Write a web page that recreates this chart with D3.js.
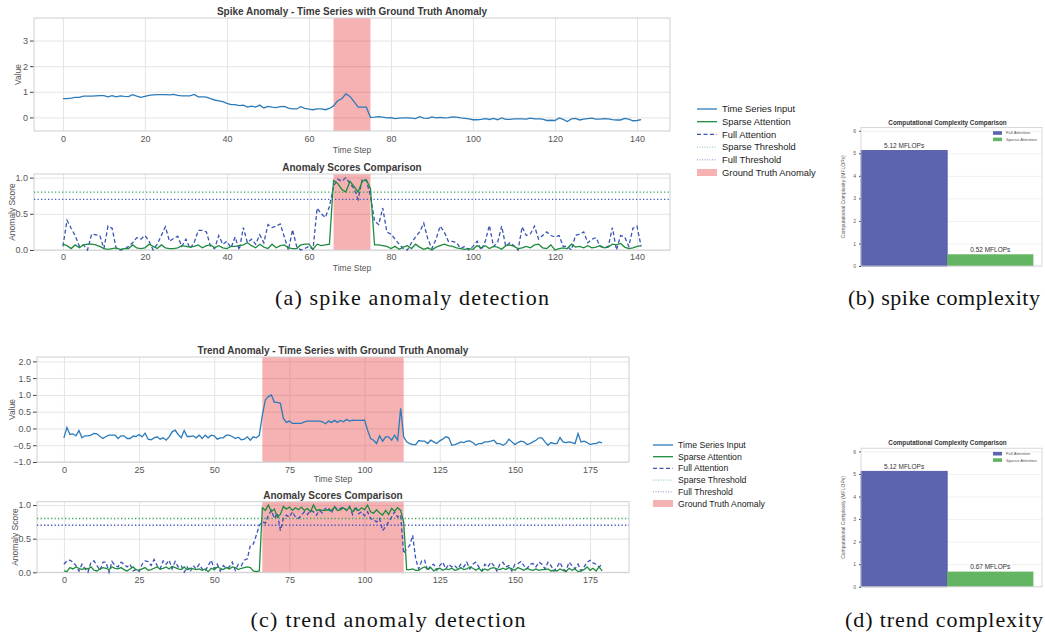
<!DOCTYPE html>
<html>
<head>
<meta charset="utf-8">
<script src="https://d3js.org/d3.v7.min.js"></script>
<style>
  body { margin: 0; background: #fff; }
  svg { display: block; }
  text { font-family: "Liberation Sans", Arial, sans-serif; }
  .cap { font-family: "Liberation Serif", "DejaVu Serif", serif; }
</style>
</head>
<body>
<svg id="fig" width="1045" height="635"></svg>
<script>
// ---- data ----
const spikeSeries = [
  0.73,0.73,0.75,0.78,0.78,0.83,0.83,0.83,0.84,0.85,
  0.85,0.80,0.85,0.80,0.84,0.82,0.81,0.89,0.83,0.78,
  0.82,0.86,0.88,0.89,0.89,0.89,0.88,0.90,0.86,0.84,
  0.84,0.84,0.90,0.80,0.80,0.79,0.73,0.68,0.65,0.62,
  0.55,0.50,0.50,0.46,0.48,0.40,0.44,0.40,0.48,0.37,
  0.43,0.40,0.38,0.42,0.43,0.36,0.33,0.33,0.42,0.35,
  0.32,0.30,0.33,0.33,0.30,0.35,0.45,0.65,0.73,0.92,
  0.82,0.62,0.40,0.40,0.40,0.00,0.01,0.03,0.01,-0.02,
  -0.01,-0.05,-0.03,-0.02,-0.02,-0.03,-0.05,0.03,-0.03,-0.04,
  0.02,-0.02,0.00,-0.02,-0.01,0.02,0.01,-0.02,-0.04,-0.06,
  -0.09,-0.09,-0.08,-0.05,-0.08,-0.04,-0.09,-0.02,-0.08,-0.08,
  -0.06,-0.06,-0.06,-0.07,-0.03,-0.06,-0.06,-0.07,-0.12,-0.11,
  -0.12,-0.02,-0.08,-0.16,-0.06,-0.04,-0.10,-0.07,-0.05,-0.03,
  -0.07,-0.07,-0.05,-0.06,-0.09,-0.10,-0.10,-0.04,-0.07,-0.13,
  -0.12,-0.09
];
const spikeSparse = [
  0.08,0.06,0.02,0.07,0.03,0.07,0.08,0.08,0.07,0.05,
  0.02,0.01,0.02,0.03,0.01,0.02,0.02,0.07,0.03,0.02,
  0.03,0.08,0.05,0.02,0.07,0.03,0.02,0.02,0.03,0.06,
  0.05,0.04,0.05,0.07,0.03,0.06,0.07,0.03,0.06,0.03,
  0.02,0.05,0.05,0.06,0.07,0.10,0.06,0.03,0.08,0.04,
  0.02,0.08,0.03,0.06,0.07,0.03,0.02,0.02,0.07,0.08,
  0.08,0.01,0.08,0.06,0.07,0.08,0.96,0.92,0.84,0.80,
  0.95,0.88,0.80,0.95,0.97,0.85,0.07,0.07,0.06,0.05,
  0.02,0.05,0.01,0.04,0.06,0.02,0.08,0.04,0.01,0.03,
  0.00,0.04,0.06,0.08,0.06,0.05,0.03,0.02,0.01,0.02,
  0.01,0.06,0.03,0.06,0.02,0.05,0.04,0.01,0.06,0.07,
  0.05,0.02,0.03,0.05,0.03,0.07,0.08,0.03,0.02,0.07,
  0.00,0.02,0.03,0.02,0.08,0.04,0.05,0.03,0.06,0.03,
  0.04,0.06,0.03,0.04,0.08,0.07,0.09,0.04,0.02,0.03,
  0.05,0.06
];
const spikeFull = [
  0.05,0.41,0.30,0.20,0.05,0.07,0.00,0.22,0.21,0.20,
  0.02,0.33,0.30,0.02,0.00,0.01,0.05,0.10,0.17,0.15,
  0.20,0.12,0.00,0.08,0.20,0.32,0.12,0.16,0.19,0.05,
  0.15,0.02,0.10,0.27,0.27,0.25,0.05,0.02,0.20,0.08,
  0.12,0.03,0.18,0.00,0.31,0.10,0.15,0.08,0.21,0.10,
  0.35,0.31,0.33,0.36,0.18,0.00,0.28,0.05,0.00,0.02,
  0.05,0.01,0.58,0.50,0.45,0.60,0.88,0.98,0.95,1.00,
  0.92,0.85,0.70,0.98,0.96,0.75,0.40,0.35,0.58,0.25,
  0.22,0.15,0.08,0.02,0.00,0.10,0.18,0.25,0.37,0.15,
  0.02,0.15,0.33,0.25,0.12,0.12,0.10,0.02,0.05,0.00,
  0.05,0.12,0.00,0.12,0.34,0.05,0.10,0.33,0.05,0.10,
  0.06,0.00,0.32,0.20,0.22,0.33,0.15,0.20,0.25,0.20,
  0.18,0.20,0.05,0.05,0.00,0.20,0.22,0.25,0.10,0.15,
  0.17,0.05,0.03,0.05,0.31,0.00,0.20,0.18,0.05,0.30,
  0.33,0.05
];
const trendSeries = [
  -0.28,0.03,-0.18,-0.16,-0.22,-0.06,-0.28,-0.22,-0.22,-0.20,
  -0.15,-0.16,-0.24,-0.30,-0.24,-0.20,-0.20,-0.20,-0.30,-0.22,
  -0.22,-0.30,-0.30,-0.23,-0.24,-0.18,-0.25,-0.14,-0.32,-0.34,
  -0.28,-0.25,-0.32,-0.28,-0.35,-0.25,-0.10,-0.05,-0.18,-0.28,
  -0.06,-0.24,-0.24,-0.22,-0.28,-0.20,-0.30,-0.20,-0.28,-0.20,
  -0.22,-0.32,-0.28,-0.28,-0.20,-0.20,-0.24,-0.30,-0.26,-0.34,
  -0.32,-0.25,-0.35,-0.25,-0.28,-0.20,0.40,0.85,0.95,1.00,
  0.78,0.78,0.75,0.30,0.18,0.22,0.15,0.15,0.15,0.15,
  0.20,0.22,0.22,0.22,0.22,0.22,0.20,0.14,0.22,0.18,
  0.24,0.18,0.24,0.20,0.27,0.22,0.25,0.24,0.24,0.24,
  0.25,-0.05,-0.30,-0.35,-0.45,-0.22,-0.38,-0.25,-0.25,-0.35,
  -0.20,-0.35,0.60,-0.25,-0.40,-0.45,-0.48,-0.48,-0.36,-0.38,
  -0.38,-0.45,-0.35,-0.40,-0.45,-0.37,-0.32,-0.25,-0.28,-0.50,
  -0.48,-0.45,-0.40,-0.42,-0.38,-0.37,-0.42,-0.50,-0.45,-0.45,
  -0.40,-0.40,-0.38,-0.35,-0.45,-0.45,-0.50,-0.45,-0.32,-0.40,
  -0.48,-0.42,-0.38,-0.40,-0.48,-0.45,-0.40,-0.35,-0.28,-0.28,
  -0.40,-0.50,-0.42,-0.45,-0.45,-0.27,-0.40,-0.42,-0.40,-0.42,
  -0.45,-0.15,-0.40,-0.38,-0.42,-0.48,-0.45,-0.45,-0.40,-0.43
];
const trendSparse = [
  0.02,0.01,0.07,0.05,0.08,0.06,0.04,0.06,0.05,0.08,
  0.03,0.02,0.05,0.07,0.06,0.04,0.08,0.06,0.05,0.07,
  0.04,0.02,0.05,0.08,0.04,0.03,0.05,0.07,0.03,0.04,
  0.06,0.08,0.05,0.06,0.08,0.05,0.09,0.07,0.05,0.04,
  0.08,0.04,0.06,0.05,0.04,0.05,0.03,0.05,0.01,0.06,
  0.04,0.08,0.06,0.04,0.07,0.05,0.08,0.07,0.04,0.06,
  0.07,0.08,0.07,0.02,0.01,0.02,0.96,0.92,1.00,0.90,
  0.94,0.82,0.86,0.98,0.94,0.97,0.92,0.96,0.93,0.97,
  0.92,0.95,0.90,1.00,0.92,0.93,0.92,0.92,0.93,0.92,
  0.97,0.92,0.93,0.96,0.92,0.97,0.90,0.95,0.92,0.96,
  0.93,1.00,0.90,0.88,0.93,0.88,0.85,0.92,0.86,0.95,
  0.91,0.96,0.92,0.75,0.04,0.04,0.05,0.03,0.03,0.06,
  0.08,0.05,0.07,0.02,0.05,0.06,0.03,0.05,0.04,0.06,
  0.03,0.04,0.07,0.04,0.05,0.08,0.06,0.03,0.06,0.02,
  0.05,0.03,0.06,0.07,0.05,0.04,0.06,0.04,0.07,0.05,
  0.03,0.07,0.05,0.03,0.06,0.04,0.03,0.05,0.03,0.04,
  0.04,0.05,0.02,0.03,0.02,0.05,0.03,0.01,0.06,0.03,
  0.05,0.01,0.02,0.04,0.08,0.03,0.06,0.02,0.08,0.02
];
const trendFull = [
  0.12,0.17,0.18,0.15,0.10,0.02,0.12,0.05,0.00,0.15,
  0.17,0.10,0.03,0.15,0.15,0.00,0.16,0.10,0.08,0.15,
  0.12,0.08,0.12,0.02,0.04,0.01,0.12,0.17,0.16,0.10,
  0.19,0.10,0.05,0.17,0.12,0.18,0.05,0.16,0.08,0.10,
  0.00,0.08,0.01,0.10,0.05,0.12,0.05,0.02,0.10,0.18,
  0.05,0.12,0.02,0.10,0.06,0.08,0.15,0.03,0.12,0.10,
  0.18,0.20,0.40,0.42,0.55,0.70,0.75,0.73,0.85,0.92,
  0.80,0.88,0.62,0.80,0.85,0.82,0.90,0.82,0.80,0.85,
  0.90,0.86,0.92,0.90,0.85,0.92,0.88,0.95,0.96,0.88,
  0.98,0.93,0.95,0.97,0.92,0.98,0.86,0.98,0.87,0.90,
  0.84,0.90,0.80,0.78,0.75,0.80,0.62,0.68,0.75,0.82,
  0.90,0.82,0.85,0.28,0.35,0.40,0.55,0.20,0.05,0.17,
  0.18,0.02,0.10,0.12,0.03,0.10,0.15,0.05,0.12,0.08,
  0.10,0.05,0.12,0.08,0.15,0.05,0.12,0.15,0.08,0.02,
  0.12,0.08,0.15,0.10,0.02,0.12,0.15,0.08,0.10,0.02,
  0.12,0.13,0.16,0.10,0.05,0.12,0.13,0.08,0.15,0.12,
  0.05,0.15,0.10,0.02,0.08,0.15,0.05,0.02,0.15,0.10,
  0.05,0.12,0.02,0.08,0.15,0.18,0.14,0.12,0.08,0.12
];
const spikeSpan = [66, 75];
const trendSpan = [66, 113];
const sparseThreshold = 0.8;
const fullThreshold = 0.7;
const spikeXTicks = [0, 20, 40, 60, 80, 100, 120, 140];
const trendXTicks = [0, 25, 50, 75, 100, 125, 150, 175];
const spikeValueTicks = [0, 1, 2, 3];
const trendValueTicks = [-1, -0.5, 0, 0.5, 1, 1.5, 2];
const scoreTicks = [0, 0.5, 1];
const methods = ['Full Attention', 'Sparse Attention'];
const spikeFlops = [5.12, 0.52];
const trendFlops = [5.12, 0.67];
const flopTicks = [0, 1, 2, 3, 4, 5, 6];
const legendLabels = ['Time Series Input', 'Sparse Attention', 'Full Attention',
  'Sparse Threshold', 'Full Threshold', 'Ground Truth Anomaly'];
const captions = ['(a) spike anomaly detection', '(b) spike complexity',
  '(c) trend anomaly detection', '(d) trend complexity'];

// ---- styles ----
const C = {
  series: '#2b7bba', sparse: '#1e8c3e', full: '#3a53b5',
  sparseTh: '#3fa760', fullTh: '#4559c2', span: '#e41a1c',
  grid: '#e4e4e4', frame: '#cfcfcf', tick: '#555', title: '#3a3a3a',
  barFull: '#5d64ae', barSparse: '#63b463'
};

const svg = d3.select('#fig');

function linePanel(p) {
  const x = d3.scaleLinear().domain(p.xDomain).range([p.left, p.right]);
  const y = d3.scaleLinear().domain(p.yDomain).range([p.bottom, p.top]);
  const g = svg.append('g');
  const h = p.bottom - p.top, w = p.right - p.left;

  // grid
  g.append('g').attr('transform', `translate(0,${p.bottom})`)
    .call(d3.axisBottom(x).tickValues(p.xTicks).tickSize(-h).tickFormat(''))
    .call(s => { s.select('.domain').remove(); s.selectAll('line').attr('stroke', C.grid); });
  g.append('g').attr('transform', `translate(${p.left},0)`)
    .call(d3.axisLeft(y).tickValues(p.yTicks).tickSize(-w).tickFormat(''))
    .call(s => { s.select('.domain').remove(); s.selectAll('line').attr('stroke', C.grid); });

  // ground truth span
  g.append('rect')
    .attr('x', x(p.span[0])).attr('y', p.top)
    .attr('width', x(p.span[1]) - x(p.span[0])).attr('height', h)
    .attr('fill', C.span).attr('opacity', 0.34);

  // x tick labels
  g.append('g').attr('transform', `translate(0,${p.bottom})`)
    .call(d3.axisBottom(x).tickValues(p.xTicks).tickSize(0).tickPadding(p.xPad))
    .call(s => {
      s.select('.domain').remove();
      s.selectAll('text').attr('fill', C.tick).style('font-size', '9px');
    });
  // y ticks
  g.append('g').attr('transform', `translate(${p.left},0)`)
    .call(d3.axisLeft(y).tickValues(p.yTicks).tickSize(4).tickPadding(2).tickFormat(p.yFmt))
    .call(s => {
      s.select('.domain').remove();
      s.selectAll('line').attr('stroke', '#444');
      s.selectAll('text').attr('fill', C.tick).style('font-size', '9px');
    });

  // frame
  g.append('rect').attr('x', p.left).attr('y', p.top).attr('width', w).attr('height', h)
    .attr('fill', 'none').attr('stroke', C.frame);

  g.append('text').attr('x', (p.left + p.right) / 2).attr('y', p.titleY)
    .attr('text-anchor', 'middle').attr('fill', C.title)
    .style('font-size', '10px').style('font-weight', 'bold').text(p.title);
  if (p.xlabelY) {
    g.append('text').attr('x', (p.left + p.right) / 2).attr('y', p.xlabelY)
      .attr('text-anchor', 'middle').attr('fill', C.tick).style('font-size', '8.5px').text('Time Step');
  }
  g.append('text')
    .attr('transform', `translate(${p.ylabelX},${(p.top + p.bottom) / 2}) rotate(-90)`)
    .attr('text-anchor', 'middle').attr('dy', '0.35em')
    .attr('fill', C.tick).style('font-size', '8.5px').text(p.ylabel);

  return { x, y, g };
}

function drawLine(panel, data, color, dash) {
  panel.g.append('path').datum(data)
    .attr('fill', 'none').attr('stroke', color).attr('stroke-width', 1.3)
    .attr('stroke-dasharray', dash || null)
    .attr('d', d3.line().x((d, i) => panel.x(i)).y(d => panel.y(d)));
}

function drawThreshold(panel, v, color) {
  const [a, b] = panel.x.range();
  panel.g.append('line').attr('x1', a).attr('x2', b)
    .attr('y1', panel.y(v)).attr('y2', panel.y(v))
    .attr('stroke', color).attr('stroke-width', 1.3).attr('stroke-dasharray', '1.3,2.2');
}

function scorePanel(p, sparse, full) {
  const panel = linePanel(p);
  drawThreshold(panel, sparseThreshold, C.sparseTh);
  drawThreshold(panel, fullThreshold, C.fullTh);
  drawLine(panel, full, C.full, '4,2.5');
  drawLine(panel, sparse, C.sparse);
}

function legend(x0, y0, step, size) {
  const g = svg.append('g');
  const kinds = [
    { c: C.series }, { c: C.sparse }, { c: C.full, dash: '4,2.5' },
    { c: C.sparseTh, dash: '1,1.5', thin: true }, { c: C.fullTh, dash: '1,1.5', thin: true },
    { c: C.span, patch: true }
  ];
  legendLabels.forEach((lab, i) => {
    const y = y0 + i * step, k = kinds[i];
    if (k.patch) {
      g.append('rect').attr('x', x0).attr('y', y - 3.5).attr('width', 20).attr('height', 7)
        .attr('fill', k.c).attr('opacity', 0.34);
    } else {
      g.append('line').attr('x1', x0).attr('x2', x0 + 20).attr('y1', y).attr('y2', y)
        .attr('stroke', k.c).attr('stroke-width', k.thin ? 0.8 : 1.3)
        .attr('stroke-dasharray', k.dash || null).attr('opacity', k.thin ? 0.8 : 1);
    }
    g.append('text').attr('x', x0 + 25).attr('y', y).attr('dy', '0.35em')
      .attr('fill', '#222').style('font-size', size + 'px').text(lab);
  });
}

function barPanel(b, values) {
  const x = d3.scaleLinear().domain([-0.5, 1.6]).range([b.left, b.right]);
  const y = d3.scaleLinear().domain([0, 6.144]).range([b.bottom, b.top]);
  const g = svg.append('g');
  const colors = [C.barFull, C.barSparse];

  g.append('g').attr('transform', `translate(${b.left},0)`)
    .call(d3.axisLeft(y).tickValues(flopTicks).tickSize(-(b.right - b.left)).tickFormat(''))
    .call(s => { s.select('.domain').remove(); s.selectAll('line').attr('stroke', '#f1f1f1'); });

  g.selectAll('rect.bar').data(values).join('rect').attr('class', 'bar')
    .attr('x', (d, i) => x(i - 0.5)).attr('width', (d, i) => x(i + 0.5) - x(i - 0.5))
    .attr('y', d => y(d)).attr('height', d => y(0) - y(d))
    .attr('fill', (d, i) => colors[i])
    .attr('stroke', (d, i) => i === 0 ? '#4b53a3' : 'none').attr('stroke-width', 0.8);

  g.selectAll('text.val').data(values).join('text').attr('class', 'val')
    .attr('x', (d, i) => x(i)).attr('y', d => y(d) - 2.5)
    .attr('text-anchor', 'middle').attr('fill', '#333').style('font-size', '6.5px')
    .text(d => d.toFixed(2) + ' MFLOPs');

  g.append('g').attr('transform', `translate(${b.left},0)`)
    .call(d3.axisLeft(y).tickValues(flopTicks).tickSize(2).tickPadding(3).tickFormat(d3.format('d')))
    .call(s => {
      s.select('.domain').remove();
      s.selectAll('line').attr('stroke', '#444');
      s.selectAll('text').attr('fill', '#555').style('font-size', '5px');
    });

  g.append('rect').attr('x', b.left).attr('y', b.top)
    .attr('width', b.right - b.left).attr('height', b.bottom - b.top)
    .attr('fill', 'none').attr('stroke', C.frame).attr('stroke-width', 0.8);

  g.append('text').attr('x', 947.5).attr('y', b.top - 3)
    .attr('text-anchor', 'middle').attr('fill', '#333')
    .style('font-size', '6.3px').style('font-weight', 'bold')
    .text('Computational Complexity Comparison');
  g.append('text')
    .attr('transform', `translate(843,${(b.top + b.bottom) / 2}) rotate(-90)`)
    .attr('text-anchor', 'middle').attr('dy', '0.35em').attr('fill', '#555')
    .style('font-size', '5px').text('Computational Complexity (MFLOPs)');

  methods.forEach((m, i) => {
    const yy = b.top + 5.5 + i * 6.4;
    g.append('rect').attr('x', 993).attr('y', yy - 1.8).attr('width', 9).attr('height', 3.6)
      .attr('fill', colors[i]);
    g.append('text').attr('x', 1006).attr('y', yy).attr('dy', '0.35em')
      .attr('fill', '#555').style('font-size', '4.2px').text(m);
  });
}

// ---- (a) spike ----
const a1 = linePanel({
  left: 34, right: 670, top: 18, bottom: 131,
  xDomain: [-7.05, 148.05], yDomain: [-0.53, 3.88],
  xTicks: spikeXTicks, yTicks: spikeValueTicks, yFmt: d3.format('d'),
  span: spikeSpan, xPad: 5,
  title: 'Spike Anomaly - Time Series with Ground Truth Anomaly', titleY: 14.5,
  xlabelY: 152.5, ylabel: 'Value', ylabelX: 18
});
drawLine(a1, spikeSeries, C.series);

scorePanel({
  left: 34, right: 670, top: 174, bottom: 250,
  xDomain: [-7.05, 148.05], yDomain: [0, 1.05],
  xTicks: spikeXTicks, yTicks: scoreTicks, yFmt: d3.format('.1f'),
  span: spikeSpan, xPad: 3.5,
  title: 'Anomaly Scores Comparison', titleY: 171,
  xlabelY: 271, ylabel: 'Anomaly Score', ylabelX: 12
}, spikeSparse, spikeFull);

legend(697, 109, 12.7, 9.4);

// ---- (c) trend ----
const c1 = linePanel({
  left: 37, right: 629, top: 357, bottom: 462,
  xDomain: [-8.95, 187.95], yDomain: [-1.0, 2.13],
  xTicks: trendXTicks, yTicks: trendValueTicks, yFmt: d3.format('.1f'),
  span: trendSpan, xPad: 5,
  title: 'Trend Anomaly - Time Series with Ground Truth Anomaly', titleY: 353.5,
  xlabelY: 482, ylabel: 'Value', ylabelX: 12
});
drawLine(c1, trendSeries, C.series);

scorePanel({
  left: 37, right: 629, top: 501.7, bottom: 572.3,
  xDomain: [-8.95, 187.95], yDomain: [0, 1.05],
  xTicks: trendXTicks, yTicks: scoreTicks, yFmt: d3.format('.1f'),
  span: trendSpan, xPad: 4,
  title: 'Anomaly Scores Comparison', titleY: 499,
  xlabelY: null, ylabel: 'Anomaly Score', ylabelX: 15.5
}, trendSparse, trendFull);

legend(653, 445, 11.7, 8.7);

// ---- (b), (d) complexity ----
barPanel({ left: 861, right: 1042, top: 127.5, bottom: 266 }, spikeFlops);
barPanel({ left: 861, right: 1042, top: 448.2, bottom: 586.7 }, trendFlops);

// ---- captions ----
const capPos = [[412, 305, 274], [944, 305, 192], [388, 627, 275], [944, 627, 198]];
captions.forEach((t, i) => {
  svg.append('text').attr('class', 'cap')
    .attr('x', capPos[i][0] - capPos[i][2] / 2).attr('y', capPos[i][1])
    .attr('textLength', capPos[i][2]).attr('lengthAdjust', 'spacing')
    .attr('fill', '#111').style('font-size', '22px').text(t);
});
</script>
</body>
</html>
